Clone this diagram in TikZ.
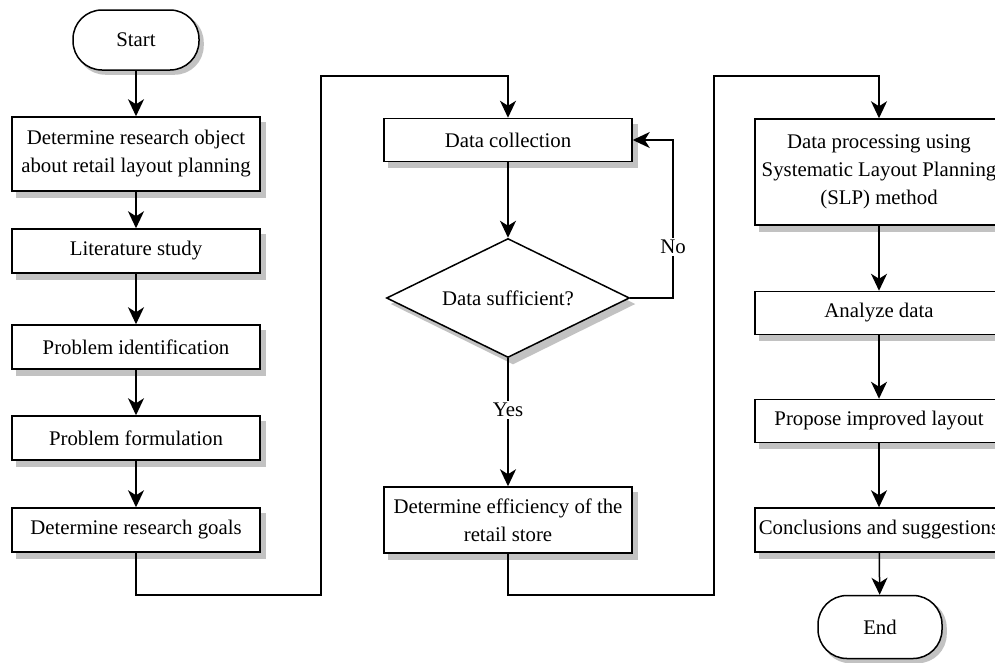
\documentclass[tikz,border=0pt]{standalone}
\usepackage{fontspec}
\setmainfont{Liberation Serif}
\usepackage{tikz}
\usetikzlibrary{arrows.meta}
\usetikzlibrary{positioning}
\usetikzlibrary{shapes.geometric}
\usetikzlibrary{backgrounds}

\begin{document}
\begin{tikzpicture}[x=1pt, y=-1pt, line width=1.5pt,
    every node/.style={font=\fontsize{20.8}{28}\selectfont, align=center, inner sep=0pt},
    box/.style={draw, fill=white, minimum width=248pt, minimum height=44pt},
    term/.style={box, rounded corners=29pt, minimum width=126pt, minimum height=60pt},
    test/.style={box, diamond, aspect=2, minimum width=243pt, minimum height=119pt},
    shadowfill/.style={fill=black!24, draw=none},
    flow/.style={-{Stealth[length=17pt, width=16pt, inset=5pt]}},
    tag/.style={fill=white, inner sep=2pt}]
    \useasboundingbox (0,0) rectangle (995,662);

    % left column
    \node[term] (start) at (136,40) {Start};
    \node[box, minimum height=74pt] (object) at (136,154) {Determine research object\\about retail layout planning};
    \node[box] (study) at (136,251) {Literature study};
    \node[box] (ident) at (136,347) {Problem identification};
    \node[box] (formul) at (136,438) {Problem formulation};
    \node[box] (goals) at (136,530) {Determine research goals};

    % middle column
    \node[box, minimum height=43pt] (collect) at (508,140) {Data collection};
    \node[test] (enough) at (508,298) {Data sufficient?};
    \node[box, minimum height=66pt] (effic) at (508,520) {Determine efficiency of the\\retail store};

    % right column
    \node[box, minimum height=106pt] (slp) at (879,172) {Data processing using\\Systematic Layout Planning\\(SLP) method};
    \node[box, minimum height=43pt] (analyze) at (879,313) {Analyze data};
    \node[box, minimum height=43pt] (propose) at (879,421) {Propose improved layout};
    \node[box] (concl) at (879,530) {Conclusions and suggestions};
    \node[term, minimum width=124pt, minimum height=63pt] (end) at (880,627) {End};

    % shadows
    \begin{scope}[on background layer]
        \foreach \n in {object,study,ident,formul,goals,collect,effic,slp,analyze,propose,concl}
            \fill[shadowfill] ([shift={(5pt,-6pt)}]\n.north west) rectangle ([shift={(5pt,-6pt)}]\n.south east);
        \foreach \n in {start,end}
            \fill[shadowfill, rounded corners=29pt] ([shift={(4pt,-4pt)}]\n.north west) rectangle ([shift={(4pt,-4pt)}]\n.south east);
        \fill[shadowfill] ([shift={(5pt,-6pt)}]enough.north) -- ([shift={(5pt,-6pt)}]enough.east)
            -- ([shift={(5pt,-6pt)}]enough.south) -- ([shift={(5pt,-6pt)}]enough.west) -- cycle;
    \end{scope}

    \coordinate (a1) at (136,595);
    \coordinate (a2) at (321,595);
    \coordinate (a3) at (321,76);
    \coordinate (a4) at (508,76);
    \coordinate (b1) at (508,595);
    \coordinate (b2) at (714,595);
    \coordinate (b3) at (714,76);
    \coordinate (b4) at (879,76);
    \coordinate (c1) at (673,298);

    \draw[flow] (start) -- (object);
    \draw[flow] (object) -- (study);
    \draw[flow] (study) -- (ident);
    \draw[flow] (ident) -- (formul);
    \draw[flow] (formul) -- (goals);
    \draw[flow] (goals.south) -- (a1) -- (a2) -- (a3) -- (a4) -- (collect.north);

    \draw[flow] (collect) -- (enough);
    \draw[flow] (enough.east) -- (c1) |- (collect.east);
    \draw[flow] (enough) -- (effic);
    \draw[flow] (effic.south) -- (b1) -- (b2) -- (b3) -- (b4) -- (slp.north);

    \draw[flow] (slp) -- (analyze);
    \draw[flow] (analyze) -- (propose);
    \draw[flow] (propose) -- (concl);
    \draw[flow] (concl) -- (end);

    \node[tag] (no) at (673,247) {No};
    \node[tag] (yes) at (508,410) {Yes};
\end{tikzpicture}
\end{document}
